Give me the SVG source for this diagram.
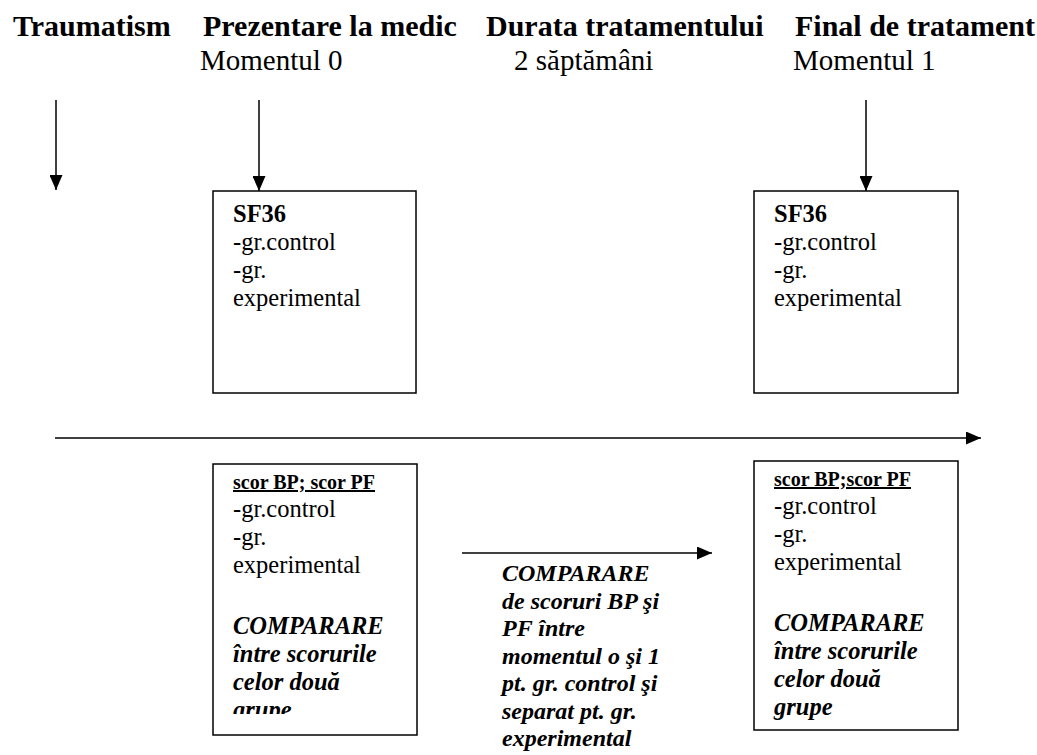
<svg xmlns="http://www.w3.org/2000/svg" width="1037" height="755" viewBox="0 0 1037 755">
<style>
.h{font-family:"Liberation Serif","Times New Roman",serif;font-size:30px;font-weight:bold;fill:#000}
.s{font-family:"Liberation Serif","Times New Roman",serif;font-size:29px;fill:#000}
.t{font-family:"Liberation Serif","Times New Roman",serif;font-size:24.5px;fill:#000}
.m{font-family:"Liberation Serif","Times New Roman",serif;font-size:24px;font-weight:bold;font-style:italic;fill:#000}
.b{font-weight:bold}
.bi{font-weight:bold;font-style:italic}
.u{font-size:20px;font-weight:bold;text-decoration:underline}
.box{fill:#fff;stroke:#000;stroke-width:1.5}
.ln{stroke:#000;stroke-width:1.5;fill:none}
</style>
<defs>
<marker id="ah" markerWidth="15" markerHeight="13" refX="15" refY="6.5" orient="auto" markerUnits="userSpaceOnUse"><path d="M0,0 L15,6.5 L0,13 z" fill="#000"/></marker>
<clipPath id="clipC"><rect x="213" y="464" width="204" height="250"/></clipPath>
</defs>
<rect width="1037" height="755" fill="#fff"/>

<g id="headers">
<text class="h" x="13" y="36">Traumatism</text>
<text class="h" x="203" y="36">Prezentare la medic</text>
<text class="h" x="486" y="36">Durata tratamentului</text>
<text class="h" x="795" y="36">Final de tratament</text>
<text class="s" x="200" y="70">Momentul 0</text>
<text class="s" x="514" y="70">2 săptămâni</text>
<text class="s" x="793" y="70">Momentul 1</text>
</g>

<g id="connectors">
<line class="ln" x1="56" y1="100" x2="56" y2="190" marker-end="url(#ah)"/>
<line class="ln" x1="259" y1="100" x2="259" y2="191" marker-end="url(#ah)"/>
<line class="ln" x1="866" y1="100" x2="866" y2="191" marker-end="url(#ah)"/>
<line class="ln" x1="55" y1="438" x2="981" y2="438" stroke-width="2" marker-end="url(#ah)"/>
<line class="ln" x1="462" y1="553" x2="712" y2="553" marker-end="url(#ah)"/>
</g>

<g id="boxA">
<rect class="box" x="213" y="191" width="203" height="202"/>
<text class="t" x="233"><tspan class="b" x="233" y="222">SF36</tspan><tspan x="233" y="250">-gr.control</tspan><tspan x="233" y="278">-gr.</tspan><tspan x="233" y="306">experimental</tspan></text>
</g>

<g id="boxB">
<rect class="box" x="754" y="191" width="204" height="202"/>
<text class="t" x="774"><tspan class="b" x="774" y="222">SF36</tspan><tspan x="774" y="250">-gr.control</tspan><tspan x="774" y="278">-gr.</tspan><tspan x="774" y="306">experimental</tspan></text>
</g>

<g id="boxC">
<rect class="box" x="213" y="464" width="204" height="271"/>
<g clip-path="url(#clipC)">
<text class="t" x="233"><tspan class="u" x="233" y="489">scor BP; scor PF</tspan><tspan x="233" y="517">-gr.control</tspan><tspan x="233" y="545">-gr.</tspan><tspan x="233" y="573">experimental</tspan><tspan class="bi" x="233" y="634">COMPARARE</tspan><tspan class="bi" x="233" y="662">între scorurile</tspan><tspan class="bi" x="233" y="690">celor două</tspan><tspan class="bi" x="233" y="718">grupe</tspan></text>
</g>
</g>

<g id="boxD">
<rect class="box" x="754" y="461" width="204" height="269"/>
<text class="t" x="774"><tspan class="u" x="774" y="486">scor BP;scor PF</tspan><tspan x="774" y="514">-gr.control</tspan><tspan x="774" y="542">-gr.</tspan><tspan x="774" y="570">experimental</tspan><tspan class="bi" x="774" y="631">COMPARARE</tspan><tspan class="bi" x="774" y="659">între scorurile</tspan><tspan class="bi" x="774" y="687">celor două</tspan><tspan class="bi" x="774" y="715">grupe</tspan></text>
</g>

<g id="middleText">
<text class="m" x="502"><tspan x="502" y="581">COMPARARE</tspan><tspan x="502" y="608.5">de scoruri BP şi</tspan><tspan x="502" y="636">PF între</tspan><tspan x="502" y="663.5">momentul o şi 1</tspan><tspan x="502" y="691">pt. gr. control şi</tspan><tspan x="502" y="718.5">separat pt. gr.</tspan><tspan x="502" y="746">experimental</tspan></text>
</g>
</svg>
